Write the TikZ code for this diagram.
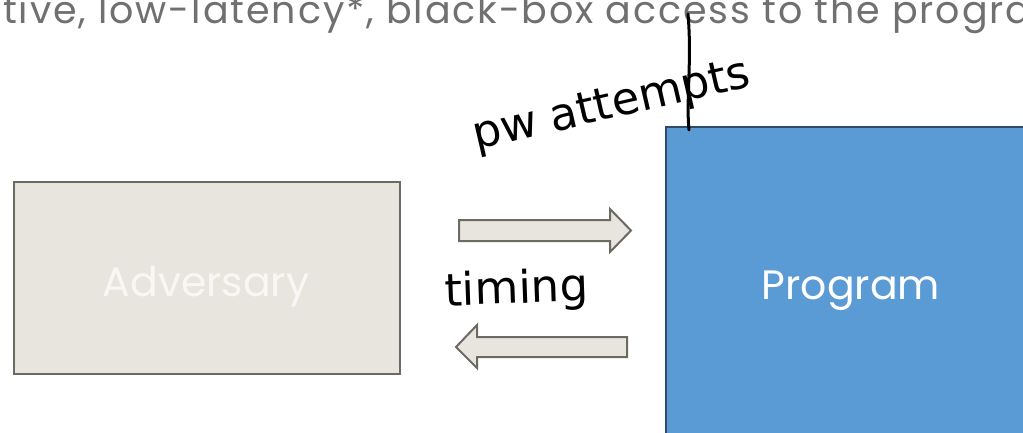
\documentclass[tikz,border=0pt]{standalone}
\usepackage{fontspec}
\setmainfont{Poppins}
\newfontfamily\hand{DejaVu Sans}
\newfontfamily\topfont{Poppins}[LetterSpace=5]
\definecolor{advfill}{HTML}{E8E5DF}
\definecolor{advdraw}{HTML}{6B6A63}
\definecolor{progfill}{HTML}{5B9BD5}
\definecolor{progdraw}{HTML}{2E4A66}
\definecolor{toptext}{HTML}{707070}
\definecolor{advtext}{HTML}{F8F7F4}
\tikzset{
  box/.style={line width=2pt},
  boxlabel/.style={anchor=base, inner sep=0pt, font=\fontsize{41}{41}\selectfont},
  blockarrow/.style={fill=advfill, draw=advdraw, line width=2pt, line join=miter},
  handtext/.style={text=black, font=\hand\fontsize{45}{45}\selectfont, inner sep=0pt},
}
\begin{document}
\begin{tikzpicture}[x=1pt,y=-1pt]
\useasboundingbox (0,0) rectangle (1023,432);
\clip (0,0) rectangle (1023,432);
\fill[white] (0,0) rectangle (1023,432);
% top text
\node[anchor=base west, inner sep=0pt, text=toptext, font=\topfont\fontsize{38}{38}\selectfont] (top) at (3,23) {tive, low-latency*, black-box access to the progra};
% boxes
\draw[box, fill=advfill, draw=advdraw] (14,182) rectangle (400,374);
\node[boxlabel, text=advtext] (adv) at (206,296) {Adversary};
\draw[box, fill=progfill, draw=progdraw] (666,127) rectangle (1050,460);
\node[boxlabel, text=white] (prog) at (851,299) {Program};
% block arrows
\draw[blockarrow] (459,220) -- (610,220) -- (610,209) -- (631,230.5) -- (610,252) -- (610,241) -- (459,241) -- cycle;
\draw[blockarrow] (627,337) -- (477,337) -- (477,325) -- (456,347) -- (477,368) -- (477,357) -- (627,357) -- cycle;
% handwritten labels
\node[handtext, anchor=base west, rotate=13] (pw) at (476,150) {pw attempts};
\node[handtext, anchor=base west, rotate=2] (timing) at (445,306) {timing};
\draw[line width=3pt, line cap=round] (688,14) .. controls (692,60) and (686,100) .. (689,130);
\end{tikzpicture}
\end{document}
